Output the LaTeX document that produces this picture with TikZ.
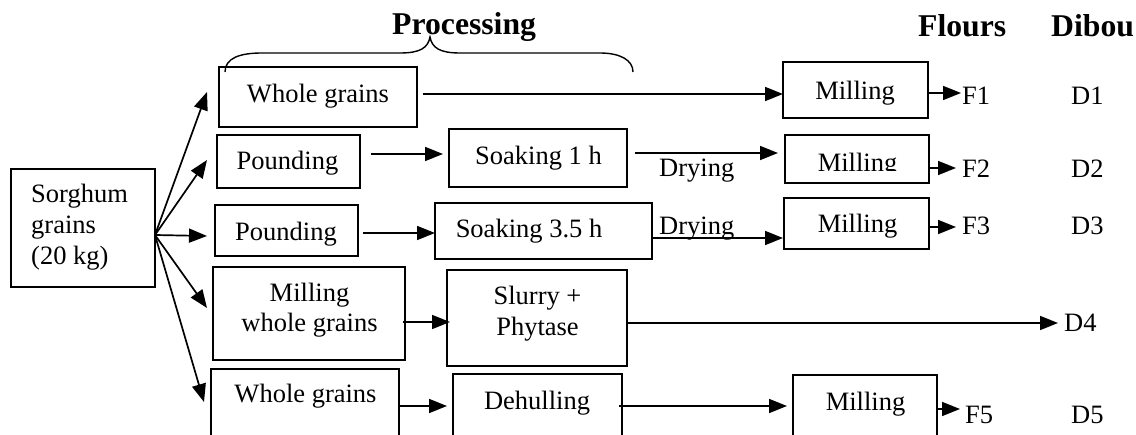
\documentclass[tikz,border=0pt]{standalone}
\usepackage{fontspec}
\setmainfont{Liberation Serif}
\usetikzlibrary{arrows.meta}
\begin{document}
\begin{tikzpicture}[x=1pt,y=-1pt,
  box/.style={draw,line width=1.7pt,inner sep=0pt},
  txt/.style={anchor=base,inner sep=0pt,font=\fontsize{26.5}{31}\selectfont},
  lbl/.style={anchor=base west,inner sep=0pt,font=\fontsize{26.5}{31}\selectfont},
  head/.style={anchor=base west,inner sep=0pt,font=\fontsize{31.7}{36}\selectfont\bfseries},
  arr/.style={line width=1.7pt,-{Triangle[length=18pt,width=14pt]}},
  brace/.style={line width=1.4pt}]
\clip (0,0) rectangle (1136,435);
\fill[white] (0,0) rectangle (1136,435);

% headings
\node[head] (hproc) at (392,35) {Processing};
\node[head] (hflour) at (918,37) {Flours};
\node[head] (hdibou) at (1051,37) {Dibou};
\draw[brace] (225,72) .. controls (225,58) and (240,53) .. (262,53) -- (400,53)
  .. controls (420,53) and (428,48) .. (430,37)
  .. controls (432,48) and (440,53) .. (460,53) -- (600,53)
  .. controls (620,53) and (633,60) .. (633,72);

% boxes
\node[box,minimum width=144pt,minimum height=118pt] (sorg) at (83,228) {};
\node[box,minimum width=198pt,minimum height=60pt] (wg1) at (318,97) {};
\node[box,minimum width=143pt,minimum height=53pt] (pd1) at (288.5,161.5) {};
\node[box,minimum width=178pt,minimum height=58pt] (sk1) at (538,158) {};
\node[box,minimum width=145pt,minimum height=56pt] (ml1) at (855.5,90) {};
\node[box,minimum width=144pt,minimum height=48pt] (ml2) at (857,159) {};
\node[box,minimum width=143pt,minimum height=51pt] (pd2) at (286.5,230.5) {};
\node[box,minimum width=217pt,minimum height=56pt] (sk3) at (543.5,231) {};
\node[box,minimum width=145pt,minimum height=51pt] (ml3) at (856.5,223.5) {};
\node[box,minimum width=192pt,minimum height=93pt] (mwg) at (309,313.5) {};
\node[box,minimum width=180pt,minimum height=96pt] (sl) at (537,318) {};
\node[box,minimum width=188pt,minimum height=72pt] (wg2) at (305,405) {};
\node[box,minimum width=169pt,minimum height=68pt] (dh) at (537.5,408) {};
\node[box,minimum width=144pt,minimum height=67pt] (ml5) at (865,408.5) {};

% box texts
\node[lbl] (tsorg1) at (31,203) {Sorghum};
\node[lbl] (tsorg2) at (31,234) {grains};
\node[lbl] (tsorg3) at (31,265) {(20 kg)};
\node[txt] (twg1) at (318,103) {Whole grains};
\node[txt] (tpd1) at (287.5,170) {Pounding};
\node[txt] (tsk1) at (538.5,165) {Soaking 1 h};
\node[txt] (tml1) at (855,100) {Milling};
\begin{scope}
  \clip (786,136) rectangle (928,170.5);
  \node[txt] (tml2) at (857.5,172) {Milling};
\end{scope}
\node[txt] (tpd2) at (286,241) {Pounding};
\node[txt] (tsk3) at (529,238) {Soaking 3.5 h};
\node[txt] (tml3) at (857.5,233) {Milling};
\node[txt] (tmwg1) at (309.5,302) {Milling};
\node[txt] (tmwg2) at (309.5,332) {whole grains};
\node[txt] (tsl1) at (537.5,305) {Slurry +};
\node[txt] (tsl2) at (537.5,336) {Phytase};
\node[txt] (twg2) at (305.5,403) {Whole grains};
\node[txt] (tdh) at (537,410) {Dehulling};
\node[txt] (tml5) at (865.5,411) {Milling};

% labels
\node[lbl] (dry2) at (659,177) {Drying};
\node[lbl] (dry3) at (659,235) {Drying};
\node[lbl] (F1) at (962,105) {F1};
\node[lbl] (F2) at (962,178) {F2};
\node[lbl] (F3) at (962,235) {F3};
\node[lbl] (F5) at (965,424) {F5};
\node[lbl] (D1) at (1071,105) {D1};
\node[lbl] (D2) at (1071,178) {D2};
\node[lbl] (D3) at (1071,235) {D3};
\node[lbl] (D4) at (1064,332) {D4};
\node[lbl] (D5) at (1071,424) {D5};

% connector points
\coordinate (fo) at (155,235);
\coordinate (f1) at (207,92);
\coordinate (f2) at (207,160);
\coordinate (f3) at (207,236);
\coordinate (f4) at (207,308);
\coordinate (f5) at (204,402);
\coordinate (r1as) at (423,94);  \coordinate (r1ae) at (783,94);
\coordinate (r1bs) at (928,93);  \coordinate (r1be) at (961,93);
\coordinate (r2as) at (371,154); \coordinate (r2ae) at (443,154);
\coordinate (r2bs) at (635,153); \coordinate (r2be) at (778,153);
\coordinate (r2cs) at (929,168); \coordinate (r2ce) at (956,168);
\coordinate (r3as) at (363,233); \coordinate (r3ae) at (435,233);
\coordinate (r3bs) at (652,238); \coordinate (r3be) at (783,238);
\coordinate (r3cs) at (929,227); \coordinate (r3ce) at (956,227);
\coordinate (r4as) at (403,322); \coordinate (r4ae) at (450,322);
\coordinate (r4bs) at (627,323); \coordinate (r4be) at (1058,323);
\coordinate (r5as) at (400,406); \coordinate (r5ae) at (447,406);
\coordinate (r5bs) at (619,406); \coordinate (r5be) at (787,406);
\coordinate (r5cs) at (937,409); \coordinate (r5ce) at (960,409);

% connectors
\foreach \t in {f1,f2,f3,f4,f5} \draw[arr] (fo) -- (\t);
\draw[arr] (r1as) -- (r1ae);
\draw[arr] (r1bs) -- (r1be);
\draw[arr] (r2as) -- (r2ae);
\draw[arr] (r2bs) -- (r2be);
\draw[arr] (r2cs) -- (r2ce);
\draw[arr] (r3as) -- (r3ae);
\draw[arr] (r3bs) -- (r3be);
\draw[arr] (r3cs) -- (r3ce);
\draw[arr] (r4as) -- (r4ae);
\draw[arr] (r4bs) -- (r4be);
\draw[arr] (r5as) -- (r5ae);
\draw[arr] (r5bs) -- (r5be);
\draw[arr] (r5cs) -- (r5ce);
\end{tikzpicture}
\end{document}
